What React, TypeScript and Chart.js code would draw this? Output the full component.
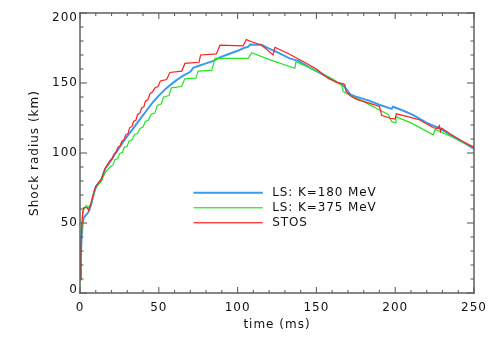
import React, { useEffect, useRef } from "react";
import { Chart, registerables } from "chart.js";

Chart.register(...registerables);

// ---- data ----
const seriesLabels = ["LS: K=180 MeV", "LS: K=375 MeV", "STOS"];
const seriesColors = ["#3a9bec", "#22e622", "#ff1e1e"];
const seriesWidths = [2, 1.2, 1.2];

const xTickValues = [0, 50, 100, 150, 200, 250];
const yTickValues = [0, 50, 100, 150, 200];
const xMinorStep = 10;
const yMinorStep = 10;

const xTitle = "time (ms)";
const yTitle = "Shock radius (km)";

// LS: K=180 MeV (blue)
const tBlue = [0, 0.5, 1, 1.7, 2.5, 4, 5.5, 7, 9, 10, 12, 13.5, 16, 19, 22, 25, 28, 31, 34, 38, 42, 46, 50, 55, 60, 65, 70, 72, 76, 80, 85, 88, 94, 100, 104, 106.8, 108, 115, 120, 125, 133, 138.5, 145, 150, 158.6, 163, 167, 169.5, 171.5, 175, 183, 190, 197.8, 198.6, 200, 206, 211.5, 220, 228.4, 235, 242, 250];
const rBlue = [10, 25, 40, 50, 54, 56, 58, 63, 72, 76, 79, 81, 89, 93.5, 99, 104, 109, 113.5, 118, 124, 130, 136, 141, 146.5, 151, 155, 158, 161, 162.5, 164, 166, 168, 170.5, 173, 175, 176, 177.5, 177.3, 174.5, 172, 167.6, 165.8, 161.5, 158.5, 153.3, 150.5, 148.3, 145, 141.8, 140.2, 137.6, 134.5, 131.5, 133, 132.5, 129.8, 127, 121.5, 117.5, 113, 108.5, 103];

// LS: K=375 MeV (green)
const tGreen = [0, 0.5, 1, 1.7, 2.5, 4, 5.5, 7, 8.5, 10, 12, 13.5, 16, 19, 21, 22, 24, 25, 27, 28, 30, 31, 33, 34.5, 36.5, 38, 40, 41.5, 43.5, 45, 47.5, 49, 51.5, 53, 56.5, 58, 64.5, 66.5, 73.5, 75, 83.6, 85.7, 106.8, 108.9, 122, 136.4, 137, 151.2, 160, 166, 167, 175, 180, 190.4, 195.6, 197.8, 199.9, 200.5, 210, 224.2, 225.3, 235, 242, 250];
const rGreen = [9, 25, 42, 56, 60, 62.5, 61, 64, 70, 74.5, 78, 79.5, 86, 90, 91.5, 95, 96, 99.5, 100.5, 104, 105, 108.5, 109.5, 113, 114, 117.5, 118.5, 122.5, 123.5, 127.5, 128.5, 134, 135, 140, 141, 146.5, 147.5, 153, 153.5, 158.5, 159, 167.6, 167.6, 171.7, 166, 160.5, 165.2, 158.1, 153, 148.6, 143.8, 139, 136.7, 130.5, 127.5, 122.4, 121.6, 126, 121.5, 113, 116.9, 112, 108, 104.5];

// STOS (red)
const tRed = [0, 0.5, 1, 1.7, 2.5, 4.5, 5.5, 7, 8.5, 10, 12, 13.5, 16, 19, 20.5, 21.5, 23, 24, 25.5, 26.5, 28, 29, 30.5, 31.5, 33, 34, 35.5, 36.5, 38, 39, 40.5, 41.5, 43, 44.5, 46, 47.5, 49.5, 51, 55, 57, 64.5, 66.6, 75.5, 76.5, 86.5, 88.8, 103.5, 105.5, 109, 115.3, 122.5, 123.7, 133, 143.8, 150, 157.6, 163, 166.5, 168, 168.8, 172, 175.6, 183, 190, 191.4, 196.7, 199.9, 200.7, 208, 215.7, 224.2, 227, 228, 228.8, 229.5, 235, 242, 250];
const rRed = [10, 30, 45, 58, 61, 61, 59, 64, 71, 76, 79, 81, 89, 94.5, 96, 99, 100.5, 104, 105, 108.5, 109.5, 113, 114, 118, 119, 122.5, 123.5, 127.5, 128.5, 132, 133, 137, 138, 142.5, 143.5, 146.5, 147.5, 151.5, 152.5, 157.5, 158.5, 164, 164.8, 170, 170.8, 177, 176.5, 181, 179.5, 177, 170, 175.5, 170.5, 164, 160, 153.3, 150.5, 149.5, 149, 144, 140.5, 138.3, 135.8, 133.2, 127, 124.8, 124.3, 128, 126, 123.6, 118, 117.5, 119.5, 115.5, 117.8, 113.5, 108.8, 104];

const FONT = "'DejaVu Sans', sans-serif";
const AXIS_COLOR = "rgb(96,96,96)";

function toPoints(t: number[], r: number[]) {
  return t.map((x, i) => ({ x, y: r[i] }));
}

export default function App() {
  const ref = useRef<HTMLCanvasElement>(null);

  useEffect(() => {
    const canvas = ref.current;
    if (!canvas) return;

    const overlayPlugin = {
      id: "overlayDecor",
      beforeDraw(chart: any) {
        (chart.ctx as any).letterSpacing = "1px";
      },
      afterDraw(chart: any) {
        const ctx = chart.ctx;
        const a = chart.chartArea;
        const xs = chart.scales.x;
        const ys = chart.scales.y;
        const w = a.right - a.left;
        const h = a.bottom - a.top;

        // legend inside plot
        const x0 = a.left + w * 0.288;
        const x1 = a.left + w * 0.464;
        const xt = a.left + w * 0.488;
        const y0 = a.top + h * 0.642;
        const dy = 15;
        ctx.save();
        (ctx as any).letterSpacing = "0.9px";
        ctx.font = `12px ${FONT}`;
        ctx.textBaseline = "middle";
        ctx.textAlign = "left";
        chart.data.datasets.forEach((ds: any, i: number) => {
          const y = y0 + i * dy;
          const lw = ds.borderWidth;
          ctx.fillStyle = ds.borderColor;
          ctx.fillRect(x0, y - lw / 2, x1 - x0, lw);
          ctx.fillStyle = "#111";
          ctx.fillText(ds.label, xt, y + 0.5);
        });
        ctx.restore();

        // y tick labels (end labels nudged inside the range, as in the original)
        ctx.save();
        (ctx as any).letterSpacing = "1px";
        ctx.font = `12px ${FONT}`;
        ctx.fillStyle = "#111";
        ctx.textAlign = "right";
        ctx.textBaseline = "middle";
        const yMin = yTickValues[0];
        const yMax = yTickValues[yTickValues.length - 1];
        yTickValues.forEach((v) => {
          let py = ys.getPixelForValue(v);
          if (v === yMax) py += 4.5;
          if (v === yMin) py -= 3.5;
          ctx.fillText(String(v), a.left - 2, py);
        });
        ctx.restore();

        // frame + inward ticks on all four sides
        ctx.save();
        ctx.fillStyle = AXIS_COLOR;
        const fw = 1.5;
        ctx.fillRect(a.left - fw / 2, a.top - fw / 2, fw, h + fw);
        ctx.fillRect(a.right - fw / 2, a.top - fw / 2, fw, h + fw);
        ctx.fillRect(a.left - fw / 2, a.top - fw / 2, w + fw, fw);
        ctx.fillRect(a.left - fw / 2, a.bottom - fw / 2, w + fw, fw);
        const tw = 1.1;
        const xMin = xTickValues[0];
        const xMax = xTickValues[xTickValues.length - 1];
        for (let v = xMin; v <= xMax + 1e-6; v += xMinorStep) {
          const px = xs.getPixelForValue(v);
          const len = xTickValues.includes(v) ? 6 : 3;
          ctx.fillRect(px - tw / 2, a.bottom - len, tw, len);
          ctx.fillRect(px - tw / 2, a.top, tw, len);
        }
        for (let v = yMin; v <= yMax + 1e-6; v += yMinorStep) {
          const py = ys.getPixelForValue(v);
          const len = yTickValues.includes(v) ? 7 : 3.5;
          ctx.fillRect(a.left, py - tw / 2, len, tw);
          ctx.fillRect(a.right - len, py - tw / 2, len, tw);
        }
        ctx.restore();
      },
    };

    const chart = new Chart(canvas, {
      type: "line",
      data: {
        datasets: [
          { label: seriesLabels[0], data: toPoints(tBlue, rBlue), borderColor: seriesColors[0], borderWidth: seriesWidths[0], order: 3 },
          { label: seriesLabels[1], data: toPoints(tGreen, rGreen), borderColor: seriesColors[1], borderWidth: seriesWidths[1], order: 2 },
          { label: seriesLabels[2], data: toPoints(tRed, rRed), borderColor: seriesColors[2], borderWidth: seriesWidths[2], order: 1 },
        ].map((d) => ({ ...d, pointRadius: 0, tension: 0, fill: false, backgroundColor: d.borderColor })),
      },
      options: {
        animation: false,
        responsive: false,
        devicePixelRatio: 1,
        layout: { padding: { left: 0, right: 24, top: 13, bottom: 0 } },
        plugins: { legend: { display: false }, tooltip: { enabled: false } },
        scales: {
          x: {
            type: "linear",
            min: xTickValues[0],
            max: xTickValues[xTickValues.length - 1],
            afterBuildTicks: (s: any) => {
              s.ticks = xTickValues.map((v) => ({ value: v }));
            },
            afterFit: (s: any) => {
              s.height = 52;
            },
            grid: { display: false, drawTicks: false },
            border: { display: false },
            ticks: { padding: 8, color: "#111", font: { family: FONT, size: 12 }, maxRotation: 0 },
            title: { display: true, text: xTitle, color: "#111", font: { family: FONT, size: 12 }, padding: { top: 0, bottom: 13 } },
          },
          y: {
            type: "linear",
            min: yTickValues[0],
            max: yTickValues[yTickValues.length - 1],
            afterBuildTicks: (s: any) => {
              s.ticks = yTickValues.map((v) => ({ value: v }));
            },
            afterFit: (s: any) => {
              s.width = 80;
            },
            grid: { display: false, drawTicks: false },
            border: { display: false },
            ticks: { display: false, padding: 3, color: "#111", font: { family: FONT, size: 12 } },
            title: { display: true, text: yTitle, color: "#111", font: { family: FONT, size: 12 }, padding: { top: 28, bottom: 0 } },
          },
        },
      },
      plugins: [overlayPlugin],
    } as any);

    return () => chart.destroy();
  }, []);

  return (
    <div style={{ position: "absolute", left: 0, top: 0, width: 498, height: 345, background: "#fff" }}>
      <canvas ref={ref} width={498} height={345} style={{ display: "block", width: 498, height: 345 }} />
    </div>
  );
}
